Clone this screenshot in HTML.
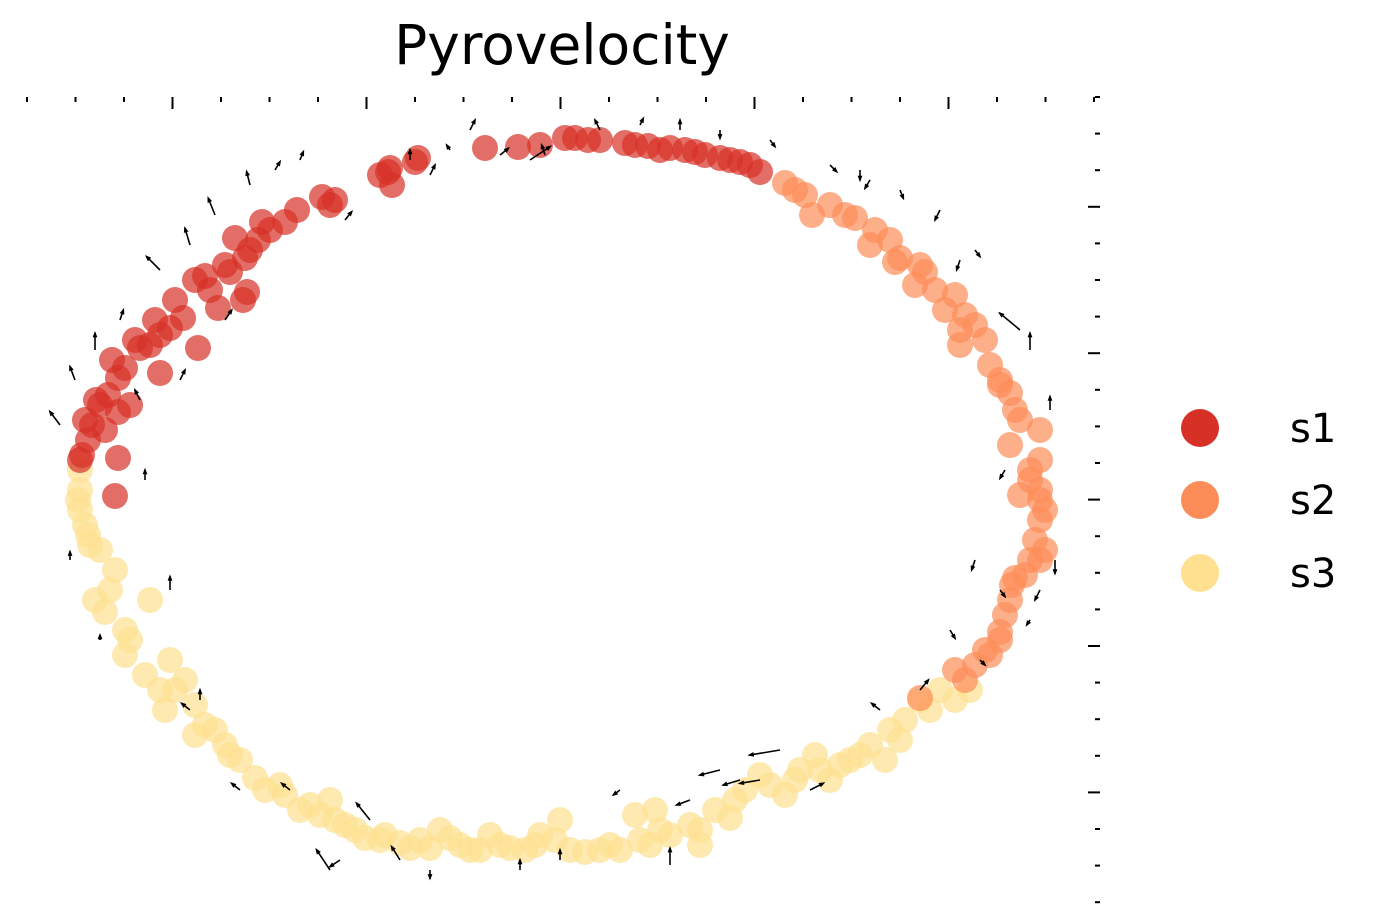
<!DOCTYPE html>
<html><head><meta charset="utf-8"><style>
html,body{margin:0;padding:0;background:#fff;}
svg{display:block;font-family:"Liberation Sans","DejaVu Sans",sans-serif;}
</style></head><body>
<svg id="chart" width="1387" height="923" viewBox="0 0 1387 923">
<text x="562" y="64" font-size="55" text-anchor="middle" fill="#000" font-family="DejaVu Sans, Liberation Sans, sans-serif">Pyrovelocity</text>
<g id="axes"></g>
<g id="points"></g>
<g id="arrows"></g>
<g>
<g><circle cx="1200" cy="428" r="19" fill="#d73027"/><text x="1290" y="442" font-size="40" font-family="DejaVu Sans, Liberation Sans, sans-serif">s1</text></g>
<g><circle cx="1200" cy="500" r="19" fill="#fc8d59"/><text x="1290" y="514" font-size="40" font-family="DejaVu Sans, Liberation Sans, sans-serif">s2</text></g>
<g><circle cx="1200" cy="573" r="19" fill="#fee090"/><text x="1290" y="587" font-size="40" font-family="DejaVu Sans, Liberation Sans, sans-serif">s3</text></g>
</g>
</svg>
<script>
const s1X=[575,588,625,648,660,685,705,740,760,730,565,540,518,485,418,390,392,388,335,322,297,285,262,258,235,245,230,205,210,247,243,218,183,170,160,150,140,198,160,125,118,108,100,130,118,92,105,88,80,118,115,82,600,635,670,695,720,750,415,380,330,270,250,225,195,175,155,135,112,96,85];
const s1Y=[138,140,143,146,150,150,155,162,172,160,138,145,147,148,158,168,185,172,200,197,210,222,222,240,238,258,272,276,290,292,300,308,318,328,335,345,348,348,373,368,378,395,405,405,412,425,430,440,460,458,496,455,140,145,148,152,158,165,162,175,205,230,250,265,280,300,320,340,360,400,420];
const s2X=[785,805,812,830,855,875,890,895,920,915,925,955,965,960,985,960,990,1000,1010,1015,1040,1010,1040,1030,1040,1020,1040,1035,1030,1015,1010,1005,1000,990,975,955,965,920,1012,1045,1040,795,845,870,900,935,945,975,1000,1020,1030,1045,1040,1025,1000,985];
const s2Y=[183,195,215,205,218,230,240,262,265,285,272,295,315,330,340,345,365,380,393,410,430,445,460,480,500,495,520,540,560,578,600,615,632,655,665,670,680,698,585,550,490,190,215,245,258,290,310,325,385,420,470,510,560,575,640,650];
const s3X=[80,80,80,85,90,100,115,95,105,150,125,125,145,170,160,165,185,195,195,215,225,230,255,280,285,310,330,335,355,385,400,420,440,460,490,510,535,560,570,600,620,635,660,700,735,760,785,800,815,840,860,885,890,905,920,940,970,830,650,480,380,655,700,730,540,78,88,110,130,175,205,240,265,300,320,345,365,410,430,450,470,500,525,555,585,610,640,670,690,715,745,770,795,820,850,870,900,930,955];
const s3Y=[470,490,510,525,545,550,570,600,612,600,630,655,675,660,690,710,680,705,735,730,745,755,778,785,795,805,800,820,830,835,843,840,830,845,835,848,845,820,850,850,850,815,830,830,800,775,795,770,755,765,755,760,730,720,700,690,690,780,845,850,840,810,845,818,835,500,535,590,640,690,725,760,790,810,815,825,838,848,848,838,850,845,850,840,852,845,840,835,825,810,790,785,780,770,760,745,740,710,700];
const arrX=[60,75,95,120,160,190,215,250,275,300,345,410,450,470,500,530,600,640,680,720,770,830,860,900,940,975,1030,1050,1055,1040,975,1000,1030,980,920,880,780,760,720,690,670,620,560,520,430,400,370,340,240,190,170,145,100,70,140,180,225,430,545,870,960,1020,1005,950,810,740,330,290,200];
const arrY=[425,380,350,320,270,245,215,185,170,160,220,160,150,130,155,160,130,125,130,130,140,165,170,190,210,250,350,410,560,590,560,590,620,660,690,710,750,780,770,800,865,790,860,870,870,860,820,860,790,710,590,480,640,560,400,380,320,175,155,180,260,330,470,630,790,780,870,790,700];
const arrDX=[-6,-3,0,2,-8,-3,-4,-2,3,2,4,0,-2,3,5,12,-3,2,0,0,3,4,0,2,-3,3,0,0,0,-3,-2,3,-2,3,5,-5,-18,-12,-12,-8,0,-4,0,0,0,-5,-8,-6,-5,-5,0,0,0,0,-3,3,4,3,-2,-3,-2,-12,-3,3,8,-10,-8,-5,0];
const arrDY=[-8,-8,-10,-6,-8,-10,-10,-8,-5,-5,-5,-6,-3,-6,-4,-8,-6,-4,-6,5,4,4,6,5,6,4,-10,-8,8,6,6,4,3,3,-6,-4,3,2,3,3,-10,3,-6,-6,5,-8,-10,4,-4,-4,-8,-6,-3,-5,-6,-6,-6,-6,-6,5,6,-10,5,5,-4,3,-12,-4,-6];
const xTicks=[173,367,560,754,948];
const yTicks=[207,353,500,646,792];

const sx=v=>v*1.0, sy=v=>v*1.0;
const NS="http://www.w3.org/2000/svg";
const axes=document.getElementById('axes');
function ln(x1,y1,x2,y2,w){const l=document.createElementNS(NS,'line');l.setAttribute('x1',x1);l.setAttribute('y1',y1);l.setAttribute('x2',x2);l.setAttribute('y2',y2);l.setAttribute('stroke','#000');l.setAttribute('stroke-width',w);return l;}
for(let i=0;i<23;i++){const x=27+i*48.5;const major=xTicks.some(t=>Math.abs(t-x)<3);const t=ln(x,97,x,major?109:102,2);


axes.appendChild(t);}
for(let i=0;i<23;i++){const y=97+i*36.6;const major=yTicks.some(t=>Math.abs(t-y)<3);const t=ln(1100,y,major?1088:1095,y,2);


axes.appendChild(t);}
const pts=document.getElementById('points');
function series(X,Y,c,name){for(let i=0;i<X.length;i++){const e=document.createElementNS(NS,'circle');e.setAttribute('cx',sx(X[i]));e.setAttribute('cy',sy(Y[i]));e.setAttribute('r',13);e.setAttribute('fill',c);e.setAttribute('fill-opacity','0.7');


pts.appendChild(e);}}
series(s3X,s3Y,'#fee090','point-s3');
series(s2X,s2Y,'#fc8d59','point-s2');
series(s1X,s1Y,'#d73027','point-s1');
const ar=document.getElementById('arrows');
for(let i=0;i<arrX.length;i++){const x=sx(arrX[i]),y=sy(arrY[i]),x2=x+arrDX[i]*1.7,y2=y+arrDY[i]*1.7;
const g=document.createElementNS(NS,'g');


g.appendChild(ln(x,y,x2,y2,1.6));
const a=Math.atan2(arrDY[i],arrDX[i]);const p=document.createElementNS(NS,'polygon');
const h=5;p.setAttribute('points',`${x2+Math.cos(a)*2},${y2+Math.sin(a)*2} ${x2-Math.cos(a-0.5)*h},${y2-Math.sin(a-0.5)*h} ${x2-Math.cos(a+0.5)*h},${y2-Math.sin(a+0.5)*h}`);p.setAttribute('fill','#000');g.appendChild(p);ar.appendChild(g);}
</script>
</body></html>
